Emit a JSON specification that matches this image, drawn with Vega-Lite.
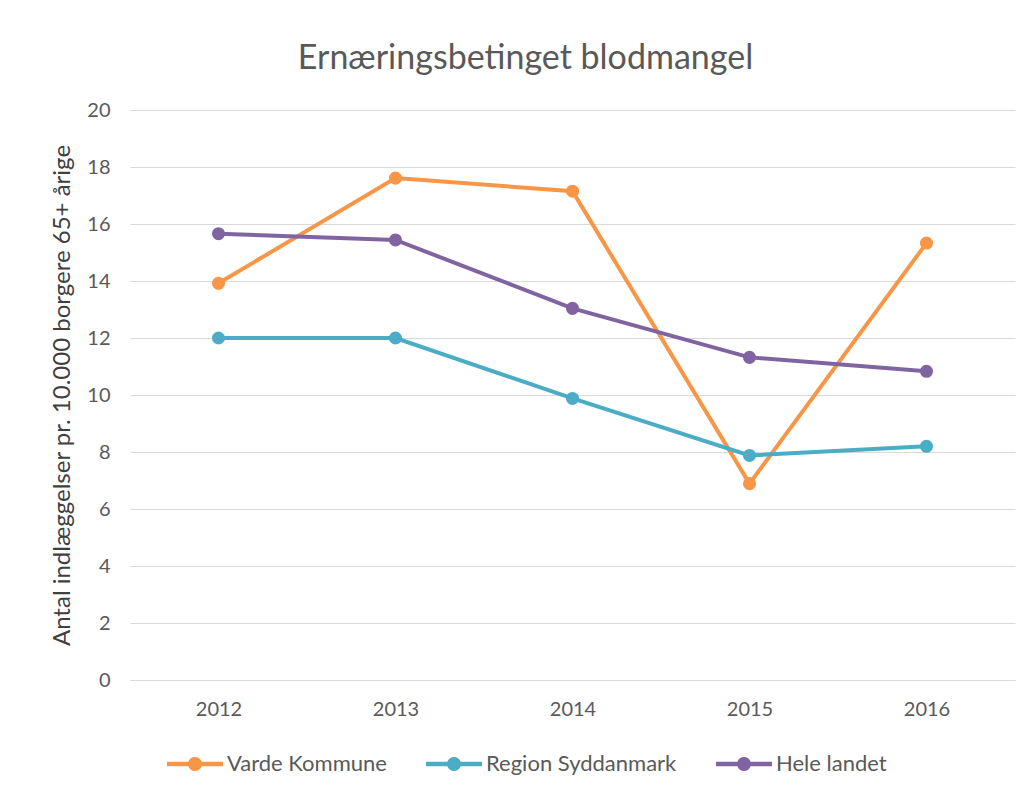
{
  "$schema": "https://vega.github.io/schema/vega-lite/v6.json",
  "autosize": {"type": "none"},
  "padding": {"left": 130, "top": 110, "right": 15, "bottom": 113},
  "width": 885,
  "height": 570,
  "background": "white",
  "title": {
    "text": "Ernæringsbetinget blodmangel",
    "font": "Lato",
    "fontSize": 34,
    "fontWeight": "normal",
    "color": "#595959",
    "anchor": "middle",
    "frame": "group",
    "dx": -47,
    "offset": 24
  },
  "data": {
    "values": [
      {"year": "2012", "series": "Varde Kommune", "value": 13.92},
      {"year": "2013", "series": "Varde Kommune", "value": 17.61},
      {"year": "2014", "series": "Varde Kommune", "value": 17.15},
      {"year": "2015", "series": "Varde Kommune", "value": 6.89},
      {"year": "2016", "series": "Varde Kommune", "value": 15.33},
      {"year": "2012", "series": "Region Syddanmark", "value": 12.0},
      {"year": "2013", "series": "Region Syddanmark", "value": 12.0},
      {"year": "2014", "series": "Region Syddanmark", "value": 9.88},
      {"year": "2015", "series": "Region Syddanmark", "value": 7.88},
      {"year": "2016", "series": "Region Syddanmark", "value": 8.2},
      {"year": "2012", "series": "Hele landet", "value": 15.66},
      {"year": "2013", "series": "Hele landet", "value": 15.44},
      {"year": "2014", "series": "Hele landet", "value": 13.04},
      {"year": "2015", "series": "Hele landet", "value": 11.32},
      {"year": "2016", "series": "Hele landet", "value": 10.83}
    ]
  },
  "mark": {"type": "line", "strokeWidth": 4, "point": {"size": 170, "filled": true, "opacity": 1}},
  "encoding": {
    "x": {
      "field": "year",
      "type": "ordinal",
      "scale": {"type": "point", "padding": 0.5},
      "axis": {
        "title": null,
        "labelAngle": 0,
        "labelFont": "Lato",
        "labelFontSize": 20,
        "labelColor": "#595959",
        "labelPadding": 19,
        "ticks": false,
        "domain": true,
        "domainColor": "#d9d9d9",
        "grid": false
      }
    },
    "y": {
      "field": "value",
      "type": "quantitative",
      "scale": {"domain": [0, 20], "nice": false},
      "axis": {
        "title": "Antal indlæggelser pr. 10.000 borgere 65+ årige",
        "titleFont": "Lato",
        "titleFontSize": 24,
        "titleFontWeight": "normal",
        "titleColor": "#404040",
        "titlePadding": 12,
        "values": [0, 2, 4, 6, 8, 10, 12, 14, 16, 18, 20],
        "labelFont": "Lato",
        "labelFontSize": 20,
        "labelColor": "#595959",
        "labelPadding": 20,
        "ticks": false,
        "domain": false,
        "grid": true,
        "gridColor": "#d9d9d9",
        "gridWidth": 1
      }
    },
    "color": {
      "field": "series",
      "type": "nominal",
      "scale": {
        "domain": ["Varde Kommune", "Region Syddanmark", "Hele landet"],
        "range": ["#F79646", "#4BACC6", "#8064A2"]
      },
      "legend": {
        "title": null,
        "orient": "none",
        "direction": "horizontal",
        "legendX": 37,
        "legendY": 626,
        "padding": 0,
        "symbolType": "M-1,-0.08L-0.237,-0.08A0.25,0.25 0 0,1 0.237,-0.08L1,-0.08L1,0.08L0.237,0.08A0.25,0.25 0 0,1 -0.237,0.08L-1,0.08Z",
        "symbolSize": 3136,
        "symbolStrokeWidth": 0,
        "labelFont": "Lato",
        "labelFontSize": 22,
        "labelColor": "#595959",
        "labelOffset": 4,
        "labelLimit": 0,
        "columnPadding": 39
      }
    }
  },
  "config": {"view": {"stroke": null}}
}
